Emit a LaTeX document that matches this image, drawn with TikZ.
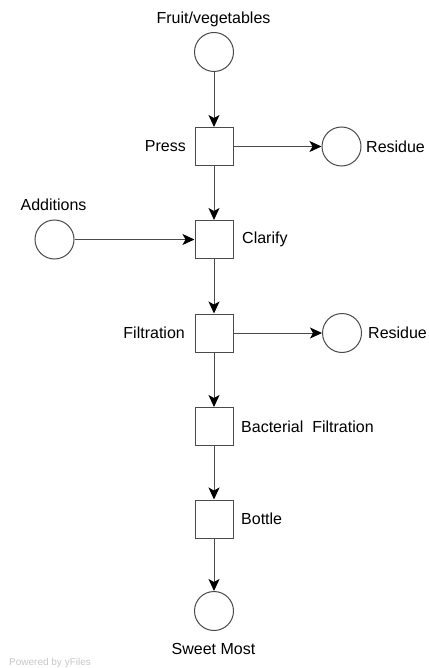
\documentclass[tikz,border=0pt]{standalone}
\usepackage{fontspec}
\setmainfont{Liberation Sans}
\usetikzlibrary{arrows.meta}
\definecolor{edgegray}{HTML}{4A4A4A}
\definecolor{wmgray}{HTML}{C8C8C8}
\tikzset{
  place/.style={circle, draw=edgegray, line width=1pt, minimum size=39pt, inner sep=0pt},
  trans/.style={rectangle, draw=edgegray, line width=1pt, minimum size=38pt, inner sep=0pt},
  lbl/.style={font=\fontsize{16}{18}\selectfont, inner sep=0pt, text=black},
  flow/.style={draw=edgegray, line width=1pt, -{Stealth[length=12pt,width=11pt,inset=3pt,fill=black,color=black]}},
}
\begin{document}
\begin{tikzpicture}[x=1pt,y=-1pt]
\useasboundingbox (0,0) rectangle (428,668);
\fill[white] (0,0) rectangle (428,668);
% places
\node[place] (fruit) at (214,52) {};
\node[place] (res1) at (341.5,146.5) {};
\node[place] (add) at (54.5,239.5) {};
\node[place] (res2) at (342,333) {};
\node[place] (sweet) at (214,611) {};
% transitions
\node[trans] (press) at (214,146.5) {};
\node[trans] (clarify) at (214,239.5) {};
\node[trans] (filt) at (214,333) {};
\node[trans] (bact) at (214,426.5) {};
\node[trans] (bottle) at (214,519) {};
% labels
\node[lbl] (lfruit) at (213.5,19) {Fruit/vegetables};
\node[lbl, anchor=east] (lpress) at (186,146.5) {Press};
\node[lbl, anchor=west] (lres1) at (366,146.5) {Residue};
\node[lbl] (ladd) at (53.5,205) {Additions};
\node[lbl, anchor=west] (lclar) at (242,239.5) {Clarify};
\node[lbl, anchor=east] (lfilt) at (185,333) {Filtration};
\node[lbl, anchor=west] (lres2) at (368,333) {Residue};
\node[lbl, anchor=west] (lbact) at (241,426.5) {Bacterial\ \ Filtration};
\node[lbl, anchor=west] (lbottle) at (241,519) {Bottle};
\node[lbl] (lsweet) at (213.5,649) {Sweet Most};
\node[font=\fontsize{10}{12}\selectfont, text=wmgray, anchor=west, inner sep=0pt] (wm) at (9,663) {Powered by yFiles};
% connectors
\draw[flow] (fruit) -- (press);
\draw[flow] (press) -- (res1);
\draw[flow] (press) -- (clarify);
\draw[flow] (add) -- (clarify);
\draw[flow] (clarify) -- (filt);
\draw[flow] (filt) -- (res2);
\draw[flow] (filt) -- (bact);
\draw[flow] (bact) -- (bottle);
\draw[flow] (bottle) -- (sweet);
\end{tikzpicture}
\end{document}
